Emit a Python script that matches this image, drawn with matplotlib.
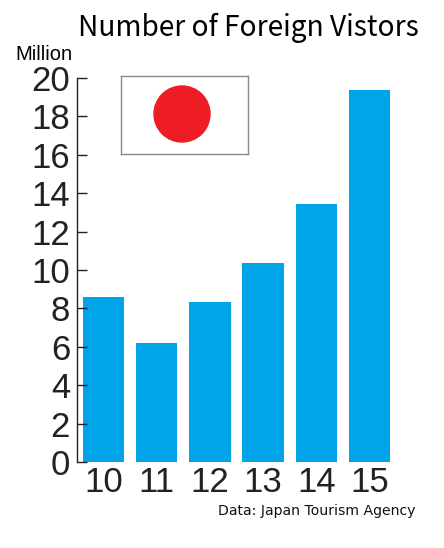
import matplotlib
matplotlib.use('Agg')
import matplotlib.pyplot as plt
from matplotlib.patches import Circle

years = ['10', '11', '12', '13', '14', '15']
visitors = [8.6, 6.2, 8.35, 10.35, 13.45, 19.4]
yticks = [0, 2, 4, 6, 8, 10, 12, 14, 16, 18, 20]

W, H = 444, 548
fig = plt.figure(figsize=(W / 100, H / 100), dpi=100)

ax = fig.add_axes([77 / W, 1 - 462 / H, 319 / W, 384 / H])
ax.bar(range(6), visitors, width=0.78, color='#00a4e8')
ax.set_xlim(-0.5, 5.5)
ax.set_ylim(0, 20)
for s in ['top', 'right', 'bottom']:
    ax.spines[s].set_visible(False)
ax.spines['left'].set_color('#222222')
ax.spines['left'].set_linewidth(1)
ax.set_yticks(yticks)
ax.set_xticks(range(6))
ax.set_xticklabels(years)
ax.tick_params(axis='y', direction='in', length=7, width=1, pad=5, color='#222222')
ax.tick_params(axis='x', length=0, pad=3)
for t in ax.get_xticklabels() + ax.get_yticklabels():
    t.set_fontfamily('Liberation Sans')
    t.set_fontsize(25)
    t.set_color('#222222')

fig.text(248 / W, 1 - 36 / H, 'Number of Foreign Vistors', family='Noto Sans CJK JP',
         fontsize=20.2, ha='center', va='baseline', color='black')
fig.text(15 / W, 1 - 60 / H, 'Million', family='Liberation Sans', fontsize=14.5,
         ha='left', va='baseline', color='black')
fig.text(415 / W, 1 - 515 / H, 'Data: Japan Tourism Agency', family='DejaVu Sans',
         fontsize=10.1, ha='right', va='baseline', color='#111111')

# flag
flag = fig.add_axes([121 / W, 1 - 154 / H, 127 / W, 78 / H])
flag.set_xlim(0, 127)
flag.set_ylim(0, 78)
flag.set_xticks([])
flag.set_yticks([])
for s in flag.spines.values():
    s.set_color('#8a8a8a')
    s.set_linewidth(1)
flag.add_patch(Circle((61, 40), 28, color='#ee1c25'))

fig.savefig('out.png', dpi=100)
